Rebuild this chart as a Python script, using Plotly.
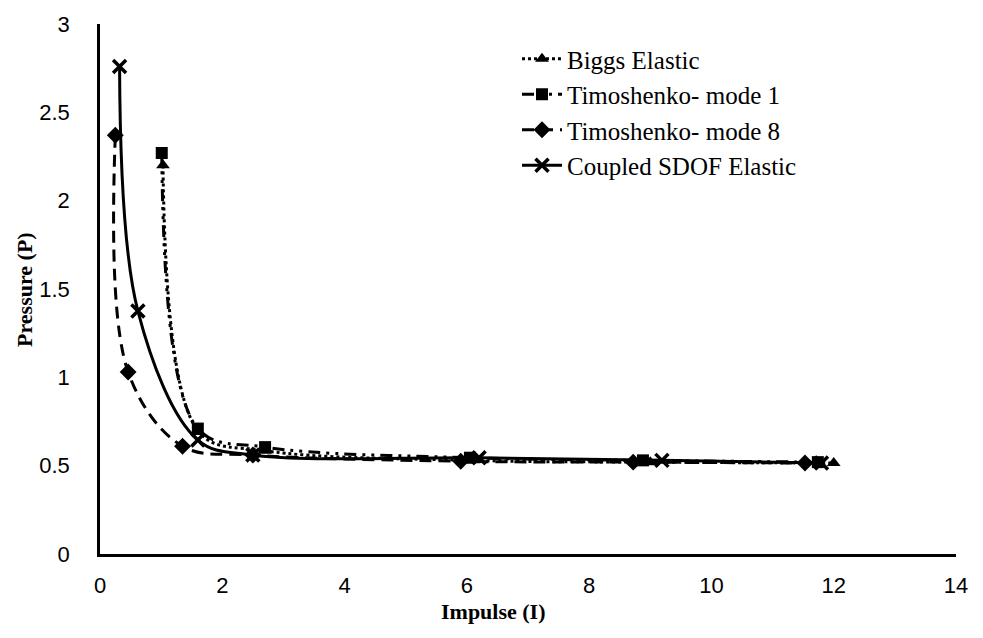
import plotly.graph_objects as go

# Data
biggs_x = [1.03, 1.62, 2.7, 6.1, 9.0, 12.0]
biggs_y = [2.20, 0.69, 0.585, 0.53, 0.52, 0.515]

timo1_x = [1.01, 1.6, 2.7, 6.05, 8.88, 11.74]
timo1_y = [2.27, 0.71, 0.605, 0.545, 0.53, 0.52]

timo8_x = [0.25, 0.46, 1.35, 2.5, 5.9, 8.72, 11.53]
timo8_y = [2.37, 1.03, 0.61, 0.56, 0.525, 0.52, 0.515]

coupled_x = [0.32, 0.62, 1.6, 2.5, 6.2, 9.19, 11.8]
coupled_y = [2.76, 1.375, 0.645, 0.56, 0.545, 0.53, 0.515]

x_ticks = [0, 2, 4, 6, 8, 10, 12, 14]
y_ticks = [0, 0.5, 1, 1.5, 2, 2.5, 3]

# plot area in pixels: x 100..956, y 24..554
L, R, T, B = 100, 27, 24, 84
PW, PH = 983 - L - R, 638 - T - B

fig = go.Figure()

fig.add_trace(go.Scatter(
    x=biggs_x, y=biggs_y, name="Biggs Elastic", mode="lines+markers",
    line=dict(color="black", width=3, dash="dot", shape="spline"),
    marker=dict(symbol="triangle-up", size=12, color="black")))

fig.add_trace(go.Scatter(
    x=timo1_x, y=timo1_y, name="Timoshenko- mode 1", mode="lines+markers",
    line=dict(color="black", width=3, dash="12px,6px,3px,6px,3px,6px", shape="spline"),
    marker=dict(symbol="square", size=12, color="black")))

fig.add_trace(go.Scatter(
    x=timo8_x, y=timo8_y, name="Timoshenko- mode 8", mode="lines+markers",
    line=dict(color="black", width=3, dash="12px,7px", shape="spline"),
    marker=dict(symbol="diamond", size=13, color="black")))

fig.add_trace(go.Scatter(
    x=coupled_x, y=coupled_y, name="Coupled SDOF Elastic", mode="lines+markers",
    line=dict(color="black", width=3, shape="spline"),
    marker=dict(symbol="x-thin", size=13, color="black",
                line=dict(color="black", width=3.5))))

serif = "Liberation Serif, Times New Roman, serif"

fig.update_layout(
    width=983, height=638,
    margin=dict(l=L, r=R, t=T, b=B),
    plot_bgcolor="white", paper_bgcolor="white",
    showlegend=True,
    legend=dict(
        x=(517 - L) / PW, y=1 - (36 - T) / PH, xanchor="left", yanchor="top",
        font=dict(family=serif, size=25, color="black"),
        bgcolor="rgba(0,0,0,0)", tracegroupgap=0, itemwidth=40,
    ),
    xaxis=dict(
        range=[0, 14], tickvals=x_ticks, showgrid=False, zeroline=False,
        showline=True, linecolor="black", linewidth=2.5, ticks="",
        automargin=False,
        ticklabelstandoff=10,
        tickfont=dict(family="Liberation Sans Narrow, Arial Narrow, sans-serif", size=22, color="black"),
    ),
    yaxis=dict(
        range=[0, 3], tickvals=y_ticks, ticktext=[str(v) if v != int(v) else str(int(v)) for v in y_ticks],
        showgrid=False, zeroline=False,
        showline=True, linecolor="black", linewidth=2.5, ticks="",
        automargin=False,
        ticklabelstandoff=23,
        tickfont=dict(family="Liberation Sans Narrow, Arial Narrow, sans-serif", size=22, color="black"),
    ),
    annotations=[
        dict(text="<b>Impulse (I)</b>", xref="paper", yref="paper",
             x=(493 - L) / PW, y=-(611 - (T + PH)) / PH, xanchor="center", yanchor="middle",
             showarrow=False, font=dict(family=serif, size=22, color="black")),
        dict(text="<b>Pressure (P)</b>", xref="paper", yref="paper",
             x=-(L - 24) / PW, y=1 - (290 - T) / PH, xanchor="center", yanchor="middle",
             textangle=-90, showarrow=False, font=dict(family=serif, size=22, color="black")),
    ],
)

fig.write_html("out.html", config={"displayModeBar": False},
               post_script="document.body.style.margin='0';")
